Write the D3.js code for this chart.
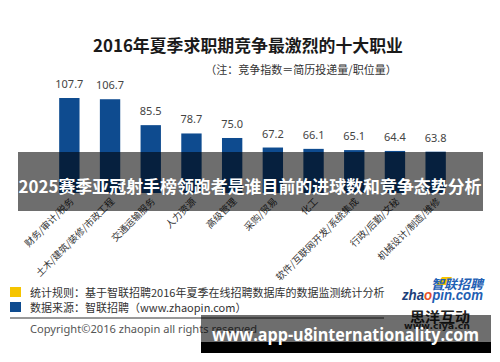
<!DOCTYPE html>
<html>
<head>
<meta charset="utf-8">
<script src="https://cdn.jsdelivr.net/npm/d3@7"></script>
<style>
  body { margin: 0; background: #fff; }
  svg { display: block; font-family: 'Noto Sans CJK SC', 'Noto Sans', sans-serif; }
</style>
</head>
<body>
<div id="chart"></div>
<script>
let jobs = ['财务/审计/税务', '土木/建筑/装修/市政工程', '交通运输服务', '人力资源', '高级管理',
  '采购/贸易', '化工', '软件/互联网开发/系统集成', '行政/后勤/文秘', '机械设计/制造/维修']
let index = [107.7, 106.7, 85.5, 78.7, 75.0, 67.2, 66.1, 65.1, 64.4, 63.8]

let title = '2016年夏季求职期竞争最激烈的十大职业'
let note = '（注：竞争指数＝简历投递量/职位量）'
let legendItems = ['统计规则：基于智联招聘2016年夏季在线招聘数据库的数据监测统计分析', '数据来源：智联招聘（www.zhaopin.com）']
let legendColors = ['#f5c400', '#0e4b8f']
let banner = '2025赛季亚冠射手榜领跑者是谁目前的进球数和竞争态势分析'
let footer = 'www.app-u8internationality.com'

let width = 500, height = 362

let svg = d3.select('#chart')
.append('svg')
.attr('width', width)
.attr('height', height)

svg.append('rect').attr('width', width).attr('height', height).attr('fill', '#fff')

let x = d3.scaleBand()
.domain(jobs)
.range([49, 456])
.paddingInner(0.5)
.paddingOuter(0.25)

let y = d3.scaleLinear()
.domain([30, 110])
.range([193, 95.2])

// title + note
svg.append('text')
.attr('x', 248).attr('y', 52)
.attr('text-anchor', 'middle')
.attr('font-size', 16.5).attr('font-weight', 'bold')
.attr('fill', '#1a1a1a')
.attr('textLength', 310).attr('lengthAdjust', 'spacingAndGlyphs')
.text(title)

svg.append('text')
.attr('x', 301).attr('y', 74)
.attr('text-anchor', 'middle')
.attr('font-size', 11)
.attr('fill', '#333')
.text(note)

// bars
svg.append('g')
.selectAll('rect')
.data(index)
.join('rect')
.attr('x', (d, i) => x(jobs[i]))
.attr('y', d => y(d))
.attr('width', x.bandwidth())
.attr('height', d => y.range()[0] - y(d))
.attr('fill', '#0e4b8f')

svg.append('g')
.selectAll('text')
.data(index)
.join('text')
.attr('x', (d, i) => x(jobs[i]) + x.bandwidth() / 2)
.attr('y', d => y(d) - 10)
.attr('text-anchor', 'middle')
.attr('font-family', 'Noto Sans, sans-serif')
.attr('font-size', 11)
.attr('fill', '#444')
.text(d => d.toFixed(1))

// rotated category labels
svg.append('g')
.selectAll('text')
.data(jobs)
.join('text')
.attr('transform', d => `translate(${x(d) + x.bandwidth() / 2 + 5}, 202) rotate(-45)`)
.attr('text-anchor', 'end')
.attr('font-size', 9.5)
.attr('fill', '#333')
.text(d => d)

// legend
let legend = svg.append('g')
.selectAll('g')
.data(legendItems)
.join('g')
.attr('transform', (d, i) => `translate(10, ${287 + i * 15})`)

legend.append('rect')
.attr('width', 11).attr('height', 10)
.attr('fill', (d, i) => legendColors[i])

legend.append('text')
.attr('x', 20).attr('y', 9.5)
.attr('font-size', 11)
.attr('fill', '#333')
.text(d => d)

svg.append('line')
.attr('x1', 10).attr('x2', 384)
.attr('y1', 318).attr('y2', 318)
.attr('stroke', '#333')

svg.append('text')
.attr('x', 30).attr('y', 333)
.attr('font-family', 'Noto Sans, sans-serif')
.attr('font-size', 11)
.attr('fill', '#555')
.attr('textLength', 227).attr('lengthAdjust', 'spacingAndGlyphs')
.text('Copyright©2016 zhaopin all rights reserved')

// logo
svg.append('path')
.attr('d', 'M436,285 L442,277 L452,277 L446,285 Z')
.attr('fill', '#f5c400')
svg.append('text')
.attr('x', 483).attr('y', 289)
.attr('text-anchor', 'end')
.attr('font-size', 13).attr('font-weight', 'bold').attr('font-style', 'italic')
.attr('fill', '#1f5fb4')
.text('智联招聘')

let logo = svg.append('text')
.attr('x', 402).attr('y', 300)
.attr('font-family', 'Liberation Sans, sans-serif')
.attr('font-size', 15).attr('font-weight', 'bold').attr('font-style', 'italic')
.attr('textLength', 81).attr('lengthAdjust', 'spacingAndGlyphs')
logo.append('tspan').attr('fill', '#1d3f7a').text('zha')
logo.append('tspan').attr('fill', '#e8532a').text('o')
logo.append('tspan').attr('fill', '#1f5fb4').text('pin.com')

svg.append('text')
.attr('x', 440).attr('y', 322)
.attr('text-anchor', 'middle')
.attr('font-family', 'Noto Sans CJK SC')
.attr('font-size', 14).attr('font-weight', 'bold')
.attr('fill', '#222')
.attr('textLength', 60).attr('lengthAdjust', 'spacingAndGlyphs')
.text('思洋互动')

svg.append('text')
.attr('x', 437).attr('y', 329)
.attr('text-anchor', 'middle')
.attr('font-family', 'DejaVu Sans, sans-serif')
.attr('font-size', 8).attr('font-weight', 'bold')
.attr('fill', '#333')
.attr('textLength', 66).attr('lengthAdjust', 'spacingAndGlyphs')
.text('www.ciya.cn')

// overlays
svg.append('rect')
.attr('x', 18).attr('y', 152)
.attr('width', 465).attr('height', 59)
.attr('fill', 'rgba(0,0,0,0.57)')

svg.append('text')
.attr('x', 250).attr('y', 193)
.attr('text-anchor', 'middle')
.attr('font-size', 17).attr('font-weight', 'bold')
.attr('fill', '#fff')
.attr('textLength', 463).attr('lengthAdjust', 'spacingAndGlyphs')
.text(banner)

svg.append('rect')
.attr('x', 201).attr('y', 315)
.attr('width', 290).attr('height', 27)
.attr('fill', 'rgba(0,0,0,0.57)')

svg.append('rect')
.attr('x', 201).attr('y', 342)
.attr('width', 290).attr('height', 11)
.attr('fill', '#000')

svg.append('text')
.attr('x', 212).attr('y', 341)
.attr('font-family', 'Open Sans, sans-serif')
.attr('font-size', 18).attr('font-weight', 'bold')
.attr('fill', '#fff')
.attr('textLength', 267).attr('lengthAdjust', 'spacingAndGlyphs')
.text(footer)
</script>
</body>
</html>
